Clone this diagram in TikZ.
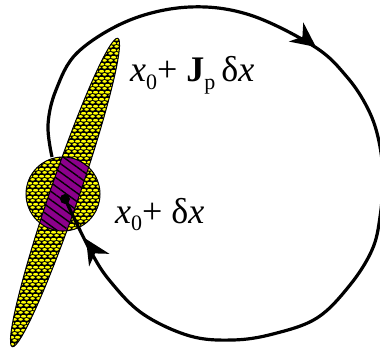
\documentclass[tikz,border=0pt]{standalone}
\usepackage{fontspec}
\setmainfont{Liberation Serif}
\usetikzlibrary{patterns,patterns.meta,arrows.meta}
\definecolor{meshyellow}{RGB}{255,255,0}
\definecolor{hatchpurple}{RGB}{140,0,140}
\pgfdeclarepatternformonly{ovalmesh}{\pgfpointorigin}{\pgfpoint{6pt}{6.6pt}}{\pgfpoint{6pt}{6.6pt}}{%
  \pgfpathellipse{\pgfpoint{3pt}{1.65pt}}{\pgfpoint{2.55pt}{0pt}}{\pgfpoint{0pt}{1.4pt}}%
  \pgfpathellipse{\pgfpoint{0pt}{4.95pt}}{\pgfpoint{2.55pt}{0pt}}{\pgfpoint{0pt}{1.4pt}}%
  \pgfpathellipse{\pgfpoint{6pt}{4.95pt}}{\pgfpoint{2.55pt}{0pt}}{\pgfpoint{0pt}{1.4pt}}%
  \pgfusepath{fill}%
}
\newcommand{\subsc}[1]{\raisebox{-0.22em}{\fontsize{22}{22}\selectfont #1}}
\tikzset{
  outline/.style={line width=1pt},
  trajectory/.style={line width=3.2pt, line join=round},
  label/.style={anchor=base west, inner sep=0pt, font=\fontsize{36}{40}\selectfont},
  bighead/.style={fill=black, draw=none},
}
\begin{document}
\begin{tikzpicture}[x=1pt,y=1pt]
\useasboundingbox (0,0) rectangle (380,362);
\def\spindle{[rotate around={71.1:(65,169.5)}] (65,169.5) ellipse [x radius=163, y radius=14.5]}
\def\blob{(63,168) circle [radius=37]}
% yellow mesh regions
\fill[black] \blob;
\fill[black] \spindle;
\fill[pattern=ovalmesh, pattern color=meshyellow] \blob;
\fill[pattern=ovalmesh, pattern color=meshyellow] \spindle;
% purple intersection
\begin{scope}
  \clip \blob;
  \fill[hatchpurple] \spindle;
  \fill[pattern={Lines[angle=-36,distance=7pt,line width=1.4pt]}, pattern color=black] \spindle;
\end{scope}
\draw[outline] \blob;
\draw[outline] \spindle;
% trajectory
\coordinate (start) at (52,205);
\coordinate (dot) at (65,163);
\coordinate (tipA) at (316,315);
\coordinate (tipB) at (86,123);
\draw[trajectory]
  plot[smooth, tension=0.6] coordinates {(52,205) (48,237) (56,272) (78,310) (130,342) (190,355) (250,347) (315,315) (347,285) (367,255) (378,225) (383,187) (380,145) (372,112) (350,77) (317,44) (273,28) (233,22) (190,26) (143,48) (110,81) (90,112) (65,163)};
\path[bighead, shift={(tipA)}, rotate=-37] (0,0) -- (-25,12) -- (-17,0) -- (-25,-12) -- cycle;
\path[bighead, shift={(tipB)}, rotate=122] (0,0) -- (-25,12) -- (-17,0) -- (-25,-12) -- cycle;
\fill (dot) circle [radius=5];
% labels
\node[label] (lab1) at (130,280) {\textit{x}\subsc{0}+ \textbf{J}\subsc{p}\,δ\textit{x}};
\node[label] (lab2) at (115,139) {\textit{x}\subsc{0}+ δ\textit{x}};
\end{tikzpicture}
\end{document}
